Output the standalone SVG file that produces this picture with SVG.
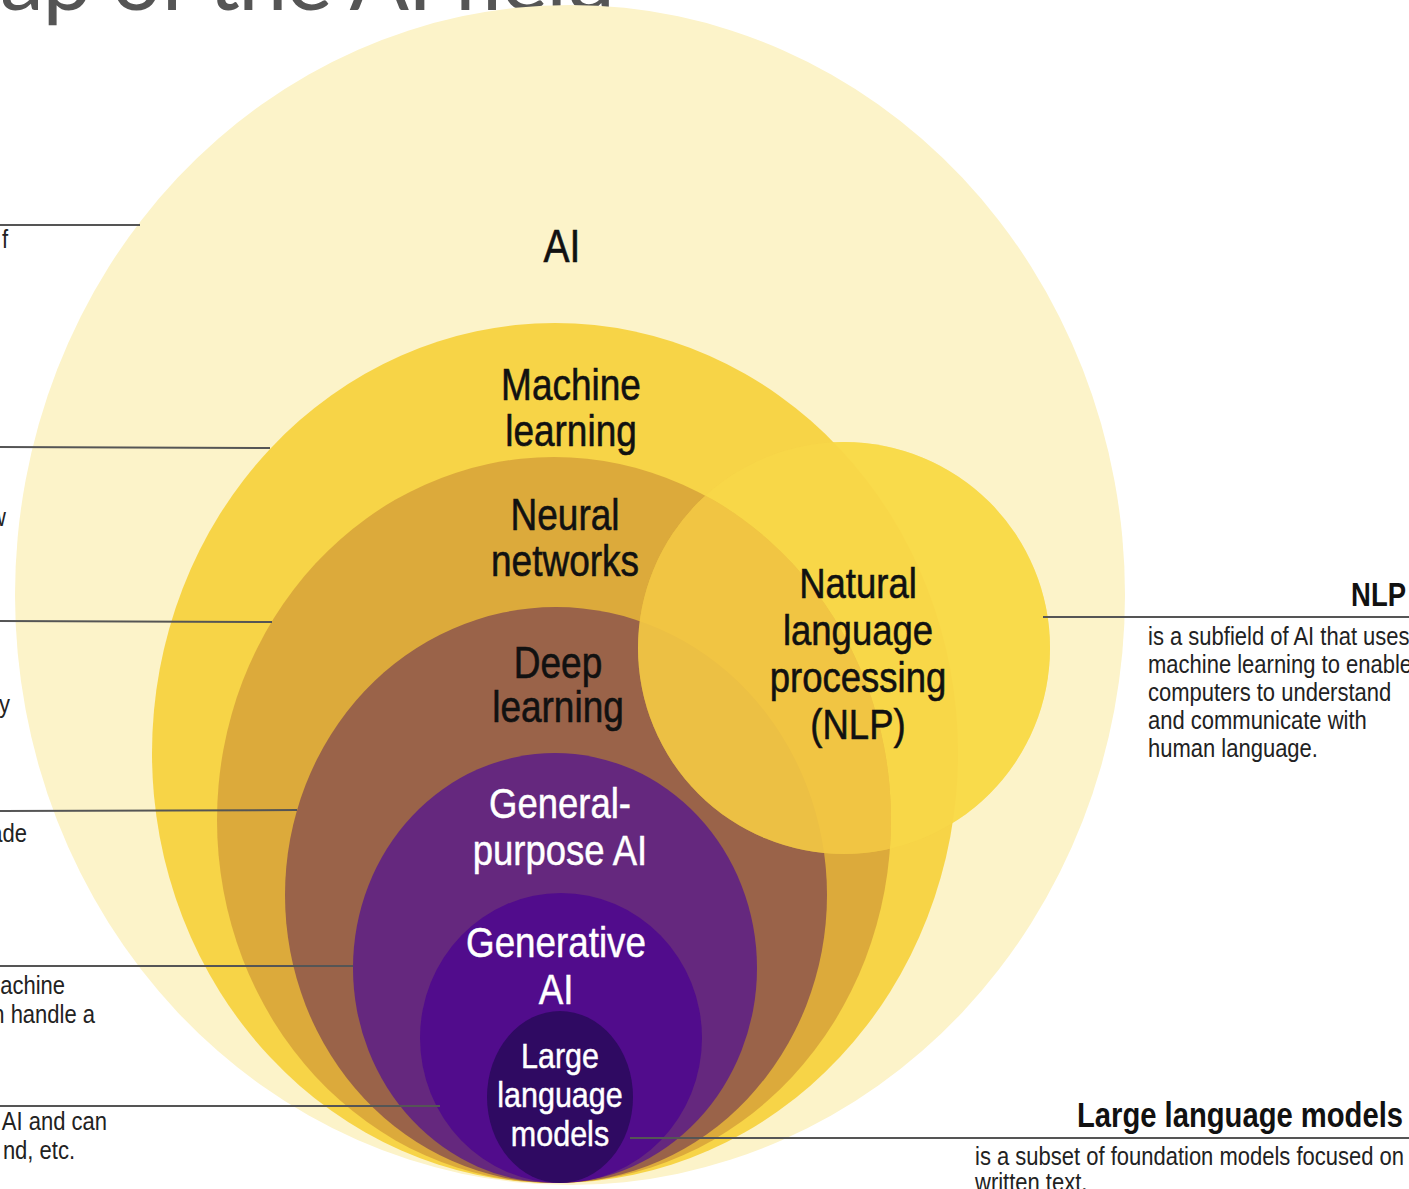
<svg xmlns="http://www.w3.org/2000/svg" width="1409" height="1189" viewBox="0 0 1409 1189">
<style>
.lbl{font-family:"Liberation Sans",Arial,Helvetica,sans-serif;fill:#111;stroke:#111;stroke-width:0.5px;text-anchor:middle}
.wht{fill:#fff;stroke:#fff;stroke-width:0.4px}
.body{font-family:"Liberation Sans",Arial,Helvetica,sans-serif;font-size:22px;fill:#222}
.head{font-family:"Liberation Sans",Arial,Helvetica,sans-serif;font-weight:bold;fill:#111}
.conn{stroke:#555;stroke-width:2;fill:none}
</style>
<defs>
<clipPath id="clipNN"><ellipse cx="554" cy="820" rx="337" ry="363"/></clipPath>
</defs>
<rect width="1409" height="1189" fill="#fff"/>
<text id="title" x="0" y="10" textLength="615" lengthAdjust="spacing" style="font-family:Lato,'Open Sans',sans-serif;font-weight:400;font-size:88px;fill:#555">ap of the AI field</text>

<g id="node-ai"><ellipse cx="570" cy="595" rx="555" ry="590" fill="#FCF3C9"/></g>
<g id="node-nlp-base"><circle cx="844" cy="648" r="206" fill="#F9DC4C"/></g>
<g id="node-ml"><ellipse cx="555" cy="753" rx="403" ry="430" fill="#F7D447"/></g>
<g id="node-nn"><ellipse cx="554" cy="820" rx="337" ry="363" fill="#DCAA3B"/></g>
<g id="node-dl"><ellipse cx="556" cy="895" rx="271" ry="288" fill="#9A6349"/></g>
<g id="node-nlp">
<circle cx="844" cy="648" r="206" fill="#F9DA4A" opacity="0.5"/>
<circle cx="844" cy="648" r="206" fill="#F2C643" opacity="0.85" clip-path="url(#clipNN)"/>
</g>
<g id="node-gp"><ellipse cx="555" cy="968" rx="202" ry="215" fill="#65287E"/></g>
<g id="node-genai"><ellipse cx="561" cy="1038" rx="141" ry="145" fill="#510C8C"/></g>
<g id="node-llm"><ellipse cx="560" cy="1097" rx="73" ry="86" fill="#2F0A62"/></g>

<g id="connectors">
<line class="conn" x1="0" y1="225" x2="140" y2="225"/>
<line class="conn" x1="0" y1="447" x2="270" y2="448"/>
<line class="conn" x1="0" y1="621" x2="272" y2="622"/>
<line class="conn" x1="0" y1="811" x2="297" y2="810"/>
<line class="conn" x1="0" y1="966" x2="353" y2="966"/>
<line class="conn" x1="0" y1="1106" x2="440" y2="1106"/>
<line class="conn" x1="1043" y1="617" x2="1409" y2="617"/>
<line class="conn" x1="630" y1="1138" x2="1409" y2="1138"/>
</g>

<g id="labels">
<text class="lbl" style="font-size:39px" transform="translate(562,262) scale(1,1.18)">AI</text>
<text class="lbl" style="font-size:37px" transform="translate(571,400) scale(1,1.18)"><tspan x="0" y="0">Machine</tspan><tspan x="0" dy="39">learning</tspan></text>
<text class="lbl" style="font-size:37px" transform="translate(565,530) scale(1,1.18)"><tspan x="0" y="0">Neural</tspan><tspan x="0" dy="39">networks</tspan></text>
<text class="lbl" style="font-size:37px" transform="translate(558,678) scale(1,1.18)"><tspan x="0" y="0">Deep</tspan><tspan x="0" dy="37.5">learning</tspan></text>
<text class="lbl" style="font-size:36.5px" transform="translate(858,598) scale(1,1.18)"><tspan x="0" y="0">Natural</tspan><tspan x="0" dy="39.8">language</tspan><tspan x="0" dy="39.8">processing</tspan><tspan x="0" dy="39.8">(NLP)</tspan></text>
<text class="lbl wht" style="font-size:36.5px" transform="translate(560,818) scale(1,1.18)"><tspan x="0" y="0">General-</tspan><tspan x="0" dy="39.8">purpose AI</tspan></text>
<text class="lbl wht" style="font-size:36.8px" transform="translate(556,957) scale(1,1.18)"><tspan x="0" y="0">Generative</tspan><tspan x="0" dy="39.8">AI</tspan></text>
<text class="lbl wht" style="font-size:30.5px" transform="translate(560,1068) scale(1,1.18)"><tspan x="0" y="0">Large</tspan><tspan x="0" dy="33">language</tspan><tspan x="0" dy="33">models</tspan></text>
</g>

<g id="annotations">
<text class="head" style="font-size:27.5px;text-anchor:end" transform="translate(1406,606) scale(1,1.18)">NLP</text>
<text class="body" transform="translate(1148,645) scale(1,1.18)"><tspan x="0" y="0">is a subfield of AI that uses</tspan><tspan x="0" dy="23.7">machine learning to enable</tspan><tspan x="0" dy="23.7">computers to understand</tspan><tspan x="0" dy="23.7">and communicate with</tspan><tspan x="0" dy="23.7">human language.</tspan></text>
<text class="head" style="font-size:29.2px;text-anchor:end" transform="translate(1403,1127) scale(1,1.18)">Large language models</text>
<text class="body" transform="translate(975,1165) scale(1,1.18)"><tspan x="0" y="0">is a subset of foundation models focused on</tspan><tspan x="0" dy="22">written text.</tspan></text>
<g style="text-anchor:end">
<text class="body" transform="translate(8,248) scale(1,1.18)">f</text>
<text class="body" transform="translate(6,526) scale(1,1.18)">w</text>
<text class="body" transform="translate(10,713) scale(1,1.18)">y</text>
<text class="body" transform="translate(27,842) scale(1,1.18)">ade</text>
<text class="body" transform="translate(65,994) scale(1,1.18)">achine</text>
<text class="body" transform="translate(95,1023) scale(1,1.18)">n handle a</text>
<text class="body" transform="translate(107,1130) scale(1,1.18)">AI and can</text>
<text class="body" transform="translate(75,1159) scale(1,1.18)">nd, etc.</text>
</g>
</g>
</svg>
